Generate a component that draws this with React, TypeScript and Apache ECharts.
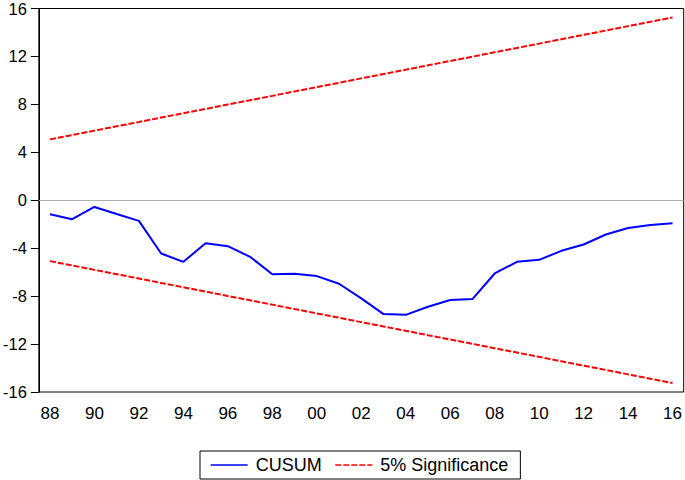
import React, { useEffect, useRef } from "react";
import * as echarts from "echarts";

const years = ["88","89","90","91","92","93","94","95","96","97","98","99","00","01","02","03","04","05","06","07","08","09","10","11","12","13","14","15","16"];
const cusum = [-1.17,-1.58,-0.56,-1.15,-1.72,-4.44,-5.14,-3.58,-3.83,-4.72,-6.17,-6.14,-6.33,-6.97,-8.19,-9.5,-9.56,-8.89,-8.33,-8.25,-6.11,-5.14,-4.97,-4.22,-3.69,-2.86,-2.31,-2.06,-1.92];
const upper = [5.08,5.44,5.81,6.17,6.53,6.9,7.26,7.62,7.99,8.35,8.71,9.08,9.44,9.8,10.17,10.53,10.89,11.26,11.62,11.98,12.35,12.71,13.07,13.44,13.8,14.16,14.53,14.89,15.25];
const lower = [-5.08,-5.44,-5.81,-6.17,-6.53,-6.9,-7.26,-7.62,-7.99,-8.35,-8.71,-9.08,-9.44,-9.8,-10.17,-10.53,-10.89,-11.26,-11.62,-11.98,-12.35,-12.71,-13.07,-13.44,-13.8,-14.16,-14.53,-14.89,-15.25];

const FONT = "'Liberation Sans', Arial, sans-serif";

export default function App() {
  const ref = useRef<HTMLDivElement>(null);
  useEffect(() => {
    const chart = echarts.init(ref.current!, null, { renderer: "svg" });
    const dashed = { color: "#ff0000", width: 2, type: [6, 2] as any };
    chart.setOption({
      animation: false,
      grid: { left: 38, right: 1, top: 8, height: 384, show: true, borderColor: "#000", borderWidth: 1, backgroundColor: "transparent" },
      legend: {
        bottom: 1,
        left: 200,
        padding: [5, 12, 5, 10],
        borderColor: "#000",
        borderWidth: 1,
        itemWidth: 37,
        itemHeight: 18,
        itemGap: 13,
        itemStyle: { opacity: 0 },
        lineStyle: { width: 1.3 },
        textStyle: { fontFamily: FONT, fontSize: 18, color: "#000", padding: [0, 0, 0, 3] },
        data: ["CUSUM", "5% Significance"],
      },
      xAxis: {
        type: "category",
        data: years,
        boundaryGap: true,
        axisLine: { lineStyle: { color: "#000", width: 1 } },
        axisTick: { interval: 0, length: 7, lineStyle: { color: "#000" } },
        axisLabel: { interval: 1, fontFamily: FONT, fontSize: 17, color: "#000", margin: 13 },
        splitLine: { show: false },
      },
      yAxis: {
        type: "value",
        min: -16,
        max: 16,
        interval: 4,
        axisLine: { show: true, lineStyle: { color: "#000", width: 1 } },
        axisTick: { show: true, length: 8, lineStyle: { color: "#000" } },
        axisLabel: { fontFamily: FONT, fontSize: 16.5, color: "#000", margin: 12 },
        splitLine: { show: false },
      },
      series: [
        {
          name: "CUSUM",
          type: "line",
          data: cusum,
          symbol: "none",
          lineStyle: { color: "#0000ff", width: 2 },
          itemStyle: { color: "#0000ff" },
          markLine: {
            silent: true,
            symbol: "none",
            label: { show: false },
            lineStyle: { color: "#b0b0b0", width: 1, type: "solid" },
            data: [{ yAxis: 0 }],
          },
          z: 3,
        },
        {
          name: "5% Significance",
          type: "line",
          data: upper,
          symbol: "none",
          lineStyle: dashed,
          itemStyle: { color: "#ff0000" },
        },
        {
          name: "5% Significance",
          type: "line",
          data: lower,
          symbol: "none",
          lineStyle: dashed,
          itemStyle: { color: "#ff0000" },
        },
      ],
    });
    return () => chart.dispose();
  }, []);
  return <div ref={ref} style={{ width: 685, height: 480, position: "absolute", left: 0, top: 0, background: "#fff" }} />;
}
